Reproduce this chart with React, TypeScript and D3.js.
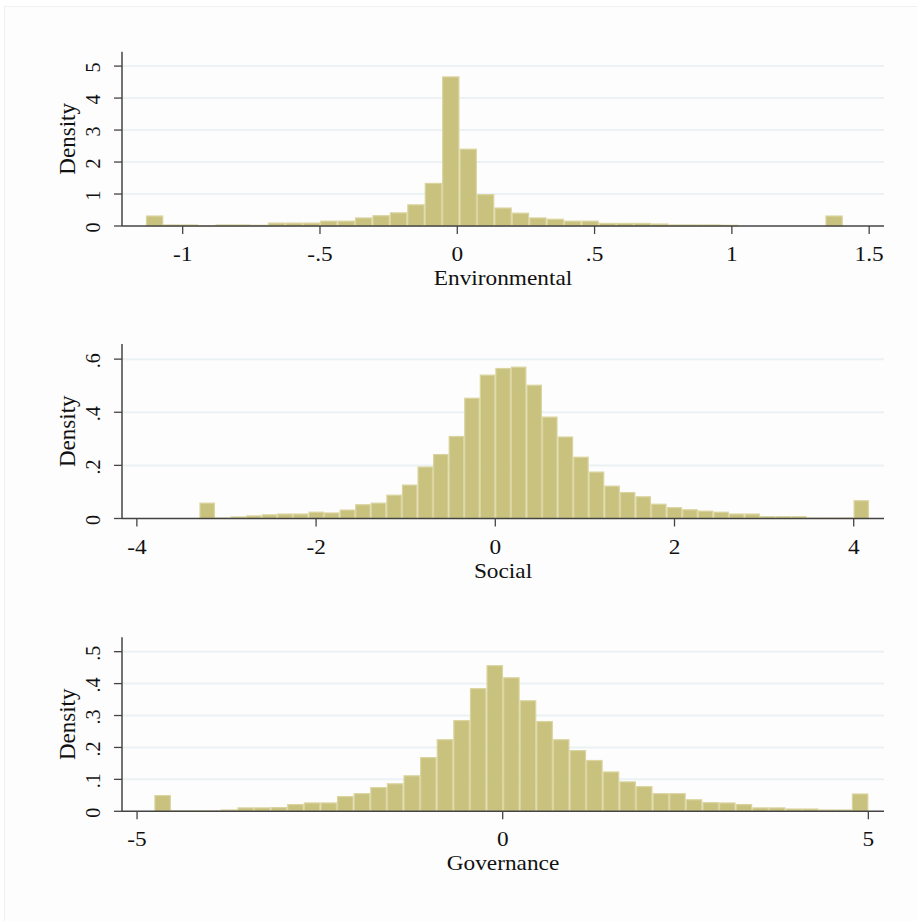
import * as d3 from 'd3'

// densities, left to right
const envDensity = [
  0.33, 0.05, 0.05, 0.02, 0.05, 0.05, 0.04, 0.11, 0.11, 0.11,
  0.17, 0.17, 0.27, 0.34, 0.43, 0.68, 1.35, 4.68, 2.42, 1.0,
  0.58, 0.42, 0.27, 0.23, 0.17, 0.17, 0.1, 0.1, 0.1, 0.08,
  0.05, 0.05, 0.05, 0.04, 0, 0, 0, 0, 0, 0.33,
]
const socDensity = [
  0.06, 0.004, 0.008, 0.012, 0.016, 0.019, 0.019, 0.026, 0.023, 0.034,
  0.054, 0.06, 0.09, 0.128, 0.196, 0.243, 0.311, 0.455, 0.542, 0.567,
  0.572, 0.504, 0.384, 0.309, 0.233, 0.177, 0.124, 0.1, 0.084, 0.056,
  0.043, 0.035, 0.03, 0.026, 0.019, 0.019, 0.009, 0.009, 0.009, 0.004,
  0.004, 0.004, 0.069,
]
const govDensity = [
  0.051, 0.003, 0.003, 0.003, 0.006, 0.0125, 0.0125, 0.0135, 0.023, 0.028,
  0.028, 0.048, 0.057, 0.076, 0.088, 0.113, 0.17, 0.226, 0.286, 0.386,
  0.458, 0.42, 0.348, 0.283, 0.226, 0.192, 0.161, 0.125, 0.094, 0.079,
  0.057, 0.057, 0.038, 0.029, 0.028, 0.023, 0.0125, 0.0125, 0.009, 0.009,
  0.006, 0.006, 0.056,
]

// bin start and width for each variable
const envBins = [-1.134, 0.06345]
const socBins = [-3.302, 0.1738]
const govBins = [-4.764, 0.2271]

const envXTicks = [-1, -0.5, 0, 0.5, 1, 1.5]
const socXTicks = [-4, -2, 0, 2, 4]
const govXTicks = [-5, 0, 5]
const envYTicks = [0, 1, 2, 3, 4, 5]
const socYTicks = [0, 0.2, 0.4, 0.6]
const govYTicks = [0, 0.1, 0.2, 0.3, 0.4, 0.5]

const panels = [
  { title: 'Environmental', dens: envDensity, bins: envBins, xTicks: envXTicks, yTicks: envYTicks, xDom: [-1.221, 1.554], yMax: 5.45, base: 226, top: 51.7 },
  { title: 'Social', dens: socDensity, bins: socBins, xTicks: socXTicks, yTicks: socYTicks, xDom: [-4.166, 4.338], yMax: 0.657, base: 518.5, top: 344 },
  { title: 'Governance', dens: govDensity, bins: govBins, xTicks: govXTicks, yTicks: govYTicks, xDom: [-5.206, 5.214], yMax: 0.545, base: 811.3, top: 637.3 },
]

const fmt = (d: number) => {
  const s = String(Math.round(d * 1000) / 1000)
  return s.replace(/^(-?)0\./, '$1.')
}

const FONT = '"Liberation Serif", "Times New Roman", serif'
const left = 122
const right = 884
const sx = 1.11

function Panel({ p }: { p: any }) {
  const x = d3.scaleLinear().domain(p.xDom).range([left, right])
  const y = d3.scaleLinear().domain([0, p.yMax]).range([p.base, p.top])
  const [start, w] = p.bins
  const bars = p.dens.map((d: number, i: number) => ({ x0: start + i * w, x1: start + (i + 1) * w, d }))
  const midY = (p.base + p.top) / 2
  return (
    <g>
      {p.yTicks.filter((t: number) => t > 0).map((t: number) => (
        <line key={'g' + t} x1={left} x2={right} y1={y(t)} y2={y(t)} stroke="#EAF2F3" strokeWidth={2} />
      ))}
      {bars.filter((b: any) => b.d > 0).map((b: any, i: number) => {
        const x0 = x(b.x0)
        const x1 = x(b.x1)
        const h = p.base - y(b.d)
        return (
          <rect key={i} x={x0 + 0.6} y={y(b.d) + 0.6} width={Math.max(0, x1 - x0 - 1.2)} height={Math.max(0, h - 0.6)}
            fill="#C9C17E" stroke="#DAD49F" strokeWidth={1.2} />
        )
      })}
      <line x1={left} x2={left} y1={p.top} y2={p.base} stroke="#444" strokeWidth={1.5} />
      <line x1={left} x2={right} y1={p.base} y2={p.base} stroke="#444" strokeWidth={1.5} />
      {p.yTicks.map((t: number) => (
        <g key={'y' + t}>
          <line x1={left - 8} x2={left} y1={y(t)} y2={y(t)} stroke="#444" strokeWidth={1.3} />
          <text transform={`translate(100,${y(t) + 1.5}) rotate(-90)`} textAnchor="middle" fontFamily={FONT} fontSize={20} fill="#111">{fmt(t)}</text>
        </g>
      ))}
      <text transform={`translate(75,${midY}) rotate(-90)`} textAnchor="middle" fontFamily={FONT} fontSize={23} fill="#111">Density</text>
      {p.xTicks.map((t: number) => (
        <g key={'x' + t}>
          <line x1={x(t)} x2={x(t)} y1={p.base} y2={p.base + 8} stroke="#444" strokeWidth={1.3} />
          <text transform={`translate(${x(t)},${p.base + 35}) scale(${sx},1)`} textAnchor="middle" fontFamily={FONT} fontSize={21} fill="#111">{fmt(t)}</text>
        </g>
      ))}
      <text transform={`translate(${(left + right) / 2},${p.base + 59}) scale(${sx},1)`} textAnchor="middle" fontFamily={FONT} fontSize={21} fill="#111">{p.title}</text>
    </g>
  )
}

export default function App() {
  return (
    <svg width={917} height={921} style={{ position: 'absolute', left: 0, top: 0, background: '#fff' }}>
      <rect x={4.5} y={6.5} width={920} height={920} fill="#FDFDFD" stroke="#F0F0F0" />
      {panels.map(p => <Panel key={p.title} p={p} />)}
    </svg>
  )
}
